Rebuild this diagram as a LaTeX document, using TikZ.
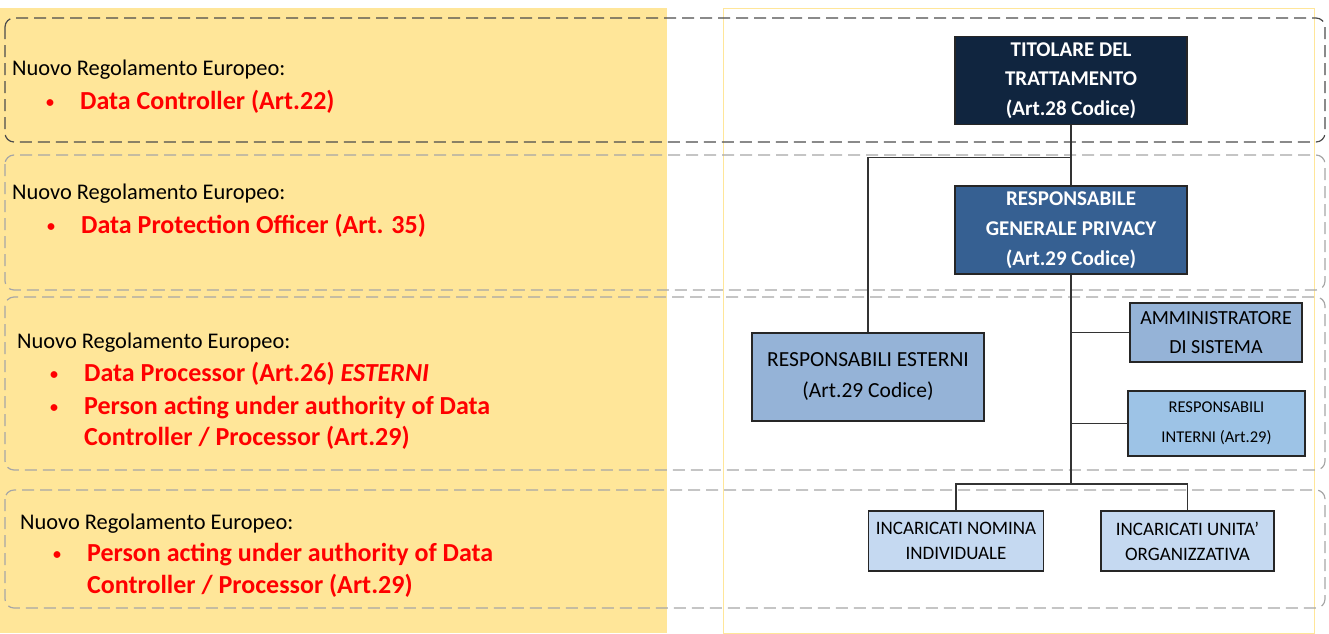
\documentclass[tikz,border=0pt]{standalone}
\usepackage{fontspec}
\setmainfont{Carlito}
\usetikzlibrary{positioning}
\definecolor{panelgold}{HTML}{FFE699}
\definecolor{navybox}{HTML}{10253F}
\definecolor{steelbox}{HTML}{366092}
\definecolor{paleblue}{HTML}{95B3D7}
\definecolor{skyblue}{HTML}{9DC3E6}
\definecolor{iceblue}{HTML}{C5D9F1}
\definecolor{rulered}{HTML}{FF0000}
\tikzset{
    x=1pt, y=-1pt, % one unit is one pixel of the page, y runs down
    band/.style={ % dashed strips across the page
        draw=gray!70,
        dash pattern=on 12pt off 6pt,
        line width=1.2pt,
        rounded corners=9pt
    },
    orgbox/.style={ % boxes of the chart
        draw=black!85,
        line width=1.8pt,
        inner sep=0pt,
        align=center
    },
    chief/.style={orgbox, fill=navybox, text=white,
        font=\fontsize{21}{29.5}\selectfont\bfseries,
        minimum width=232pt, minimum height=88pt},
    officer/.style={orgbox, fill=steelbox, text=white,
        font=\fontsize{21}{30}\selectfont\bfseries,
        minimum width=232pt, minimum height=88pt},
    processor/.style={orgbox, fill=paleblue,
        font=\fontsize{21.5}{31}\selectfont},
    staff/.style={orgbox, fill=iceblue,
        font=\fontsize{19}{25}\selectfont,
        minimum width=175pt, minimum height=60pt},
    link/.style={draw=black!80, line width=1.8pt},
    heading/.style={anchor=base west, inner sep=0pt,
        font=\fontsize{22.4}{27}\selectfont},
    item/.style={anchor=base west, inner sep=0pt, text=rulered,
        font=\fontsize{26}{31}\selectfont\bfseries}
}
\newcommand{\bul}{\makebox[37pt][l]{\hspace{3pt}\raisebox{2.5pt}{\fontsize{16}{16}\selectfont\textbullet}}}

\begin{document}
\begin{tikzpicture}
    \useasboundingbox (0,0) rectangle (1329,633);
    % panels
    \fill[panelgold] (0,8) rectangle (667,633);
    \draw[panelgold, line width=1pt] (723.5,8.5) rectangle (1314,633);
    % strips
    \draw[band, draw=black!70] (5,18) rectangle (1325,142);
    \draw[band] (5,155) rectangle (1325,290);
    \draw[band] (5,297) rectangle (1325,470);
    \draw[band] (5,490) rectangle (1325,608);

    % chart
    \node[chief] (tit) at (1071,80.5) {TITOLARE DEL\\TRATTAMENTO\\(Art.28 Codice)};
    \node[officer, below=60pt of tit] (gen) {RESPONSABILE\\GENERALE PRIVACY\\(Art.29 Codice)};
    \node[processor, minimum width=232pt, minimum height=88pt] (est) at (868,377)
        {RESPONSABILI ESTERNI\\(Art.29 Codice)};
    \node[processor, font=\fontsize{20}{29}\selectfont,
        minimum width=172pt, minimum height=59pt] (amm) at (1216,332.5)
        {AMMINISTRATORE\\DI SISTEMA};
    \node[orgbox, fill=skyblue, font=\fontsize{16.5}{30}\selectfont,
        minimum width=177pt, minimum height=65pt] (int) at (1216.5,423.5)
        {RESPONSABILI\\INTERNI (Art.29)};
    \node[staff] (nom) at (956,541) {INCARICATI NOMINA\\INDIVIDUALE};
    \node[staff, minimum width=173pt] (uni) at (1187.5,541) {INCARICATI UNITA'\\ORGANIZZATIVA};

    \draw[link] (tit.south) -- (gen.north);
    \draw[link] (tit.south) -- ++(0,32) coordinate (fork) -| (est.north);
    \draw[link] (gen.south) -- ++(0,209) coordinate (base);
    \draw[link] (amm.west) -- (amm.west -| gen.south);
    \draw[link] (int.west) -- (int.west -| gen.south);
    \draw[link] (base) -| (nom.north);
    \draw[link] (base) -| (uni.north);

    % left column
    \node[heading] (h1) at (12,75) {Nuovo Regolamento Europeo:};
    \node[item] (dc) at (43,109.5) {\bul Data Controller (Art.22)};
    \node[heading] (h2) at (12,199) {Nuovo Regolamento Europeo:};
    \node[item] (dpo) at (44,233.5) {\bul Data Protection Officer (Art. 35)};
    \node[heading] (h3) at (17,348) {Nuovo Regolamento Europeo:};
    \node[item] (dp) at (47,381.5) {\bul Data Processor (Art.26) {\itshape ESTERNI}};
    \node[item] (pa) at (47,414.5) {\bul Person acting under authority of Data};
    \node[item] (pb) at (84,445.5) {Controller / Processor (Art.29)};
    \node[heading] (h4) at (20,529) {Nuovo Regolamento Europeo:};
    \node[item] (pc) at (50,561.5) {\bul Person acting under authority of Data};
    \node[item] (pd) at (87,593.5) {Controller / Processor (Art.29)};
\end{tikzpicture}
\end{document}
